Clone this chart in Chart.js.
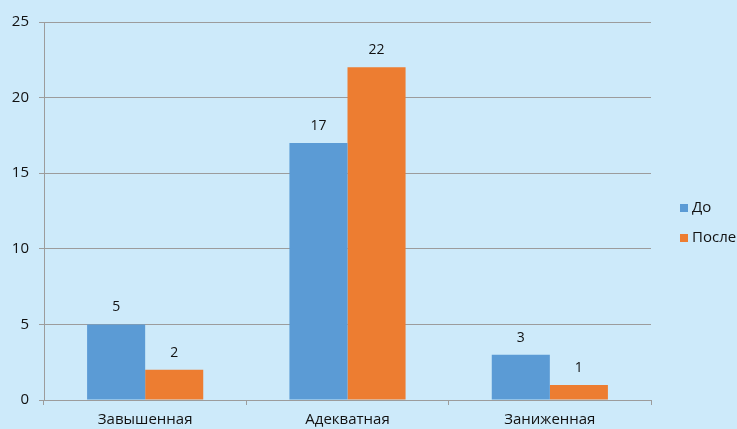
<!DOCTYPE html>
<html>
<head>
<meta charset="utf-8">
<script src="https://cdn.jsdelivr.net/npm/chart.js@4.4.1/dist/chart.umd.min.js"></script>
<style>
  html, body { margin: 0; padding: 0; background: #cdeafa; }
  #wrap { width: 737px; height: 429px; position: relative; }
</style>
</head>
<body>
<div id="wrap"><canvas id="chart"></canvas></div>
<script>
// Data
const categories = ['Завышенная', 'Адекватная', 'Заниженная'];
const seriesNames = ['До', 'После'];
const beforeValues = [5, 17, 3];
const afterValues = [2, 22, 1];
const yTicks = [0, 5, 10, 15, 20, 25];

const colors = ['#5b9bd5', '#ed7d31'];
const fontFamily = '"Open Sans", "Noto Sans", sans-serif';
const gridColor = '#9c9c9c';

// Value labels above each bar
const valueLabels = {
  id: 'valueLabels',
  afterDatasetsDraw(chart) {
    const c = chart.ctx;
    c.save();
    c.fillStyle = '#111';
    c.font = '14px ' + fontFamily;
    c.textAlign = 'center';
    c.textBaseline = 'middle';
    chart.data.datasets.forEach((ds, di) => {
      chart.getDatasetMeta(di).data.forEach((bar, i) => {
        c.fillText(String(ds.data[i]), bar.x, bar.y - 17);
      });
    });
    c.restore();
  }
};

// Legend at the right, runs past the edge like the original
const sideLegend = {
  id: 'sideLegend',
  afterDraw(chart) {
    const c = chart.ctx;
    c.save();
    c.font = '15px ' + fontFamily;
    c.textBaseline = 'middle';
    chart.data.datasets.forEach((ds, i) => {
      const y = 208 + i * 30;
      c.fillStyle = ds.backgroundColor;
      c.fillRect(680, y - 4, 8, 8);
      c.fillStyle = '#111';
      c.fillText(ds.label, 692, y);
    });
    c.restore();
  }
};

new Chart(document.getElementById('chart'), {
  type: 'bar',
  data: {
    labels: categories,
    datasets: [
      { label: seriesNames[0], data: beforeValues, backgroundColor: colors[0] },
      { label: seriesNames[1], data: afterValues, backgroundColor: colors[1] }
    ]
  },
  options: {
    responsive: true,
    maintainAspectRatio: false,
    animation: false,
    events: [],
    layout: { padding: { top: 22, right: 86, bottom: 0, left: 0 } },
    datasets: { bar: { barPercentage: 1.0, categoryPercentage: 0.574 } },
    plugins: { legend: { display: false }, tooltip: { enabled: false } },
    scales: {
      x: {
        afterFit: (s) => { s.height = 29; },
        grid: { offset: true, drawOnChartArea: false, drawTicks: true, tickLength: 5, color: gridColor },
        border: { display: true, color: gridColor },
        ticks: { color: '#111', padding: 6, font: { family: fontFamily, size: 15 } }
      },
      y: {
        min: 0,
        max: 25,
        afterFit: (s) => { s.width = 44; },
        afterBuildTicks: (s) => { s.ticks = yTicks.map((v) => ({ value: v })); },
        grid: { color: gridColor, tickLength: 5 },
        border: { display: true, color: gridColor },
        ticks: { color: '#111', padding: 10, font: { family: fontFamily, size: 15 } }
      }
    }
  },
  plugins: [valueLabels, sideLegend]
});
</script>
</body>
</html>
